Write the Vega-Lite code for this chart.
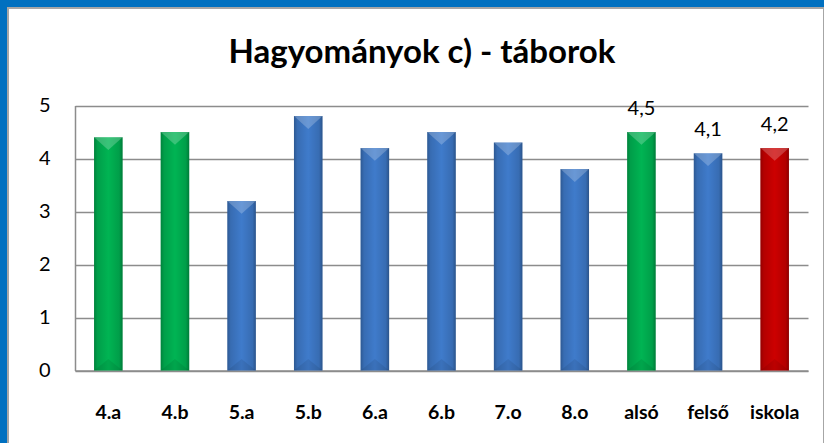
{
  "$schema": "https://vega.github.io/schema/vega-lite/v6.json",
  "autosize": {"type": "none"},
  "width": 816,
  "height": 436,
  "padding": {"left": 8, "top": 8, "right": 0, "bottom": 0},
  "background": "#0070C0",
  "view": {"fill": "#ffffff", "stroke": "#a6a6a6", "strokeWidth": 2},
  "config": {
    "font": "Lato",
    "locale": {"number": {"decimal": ",", "thousands": " ", "grouping": [3], "currency": ["", " Ft"]}}
  },
  "title": {
    "text": "Hagyományok c) - táborok",
    "font": "Lato",
    "fontSize": 33,
    "fontWeight": "bold",
    "color": "#000000",
    "anchor": "middle",
    "frame": "group",
    "baseline": "alphabetic",
    "offset": -88,
    "dx": 6
  },
  "data": {
    "values": [
      {"osztaly": "4.a", "ertek": 4.4, "szint": "alsó"},
      {"osztaly": "4.b", "ertek": 4.5, "szint": "alsó"},
      {"osztaly": "5.a", "ertek": 3.2, "szint": "felső"},
      {"osztaly": "5.b", "ertek": 4.8, "szint": "felső"},
      {"osztaly": "6.a", "ertek": 4.2, "szint": "felső"},
      {"osztaly": "6.b", "ertek": 4.5, "szint": "felső"},
      {"osztaly": "7.o", "ertek": 4.3, "szint": "felső"},
      {"osztaly": "8.o", "ertek": 3.8, "szint": "felső"},
      {"osztaly": "alsó", "ertek": 4.5, "szint": "alsó"},
      {"osztaly": "felső", "ertek": 4.1, "szint": "felső"},
      {"osztaly": "iskola", "ertek": 4.2, "szint": "iskola"}
    ]
  },
  "encoding": {
    "x": {
      "field": "osztaly",
      "type": "nominal",
      "sort": null,
      "scale": {"range": [67, 800], "paddingInner": 0.572, "paddingOuter": 0.286},
      "axis": {
        "title": null,
        "orient": "bottom",
        "offset": -73.5,
        "domainColor": "#8c8c8c",
        "domainWidth": 1.5,
        "ticks": false,
        "grid": false,
        "labelPadding": 33,
        "labelFont": "Lato",
        "labelFontSize": 19.5,
        "labelFontWeight": "bold",
        "labelColor": "#000000",
        "labelAngle": 0
      }
    },
    "y": {
      "field": "ertek",
      "type": "quantitative",
      "scale": {"domain": [0, 5], "range": [362.5, 97.5], "nice": false, "zero": true},
      "axis": {
        "title": null,
        "offset": -67,
        "values": [0, 1, 2, 3, 4, 5],
        "grid": true,
        "gridColor": "#8c8c8c",
        "gridWidth": 1.5,
        "domainColor": "#8c8c8c",
        "domainWidth": 1.5,
        "ticks": false,
        "labelPadding": 25,
        "labelFont": "Lato",
        "labelFontSize": 20,
        "labelColor": "#000000"
      }
    }
  },
  "layer": [
    {
      "mark": {"type": "bar"},
      "encoding": {
        "color": {
          "field": "szint",
          "type": "nominal",
          "scale": {"domain": ["alsó", "felső", "iskola"], "range": ["#00B453", "#3F7BCB", "#CC0000"]},
          "legend": null
        }
      }
    },
    {
      "mark": {
        "type": "bar",
        "fill": {
          "gradient": "linear",
          "x1": 0, "y1": 0, "x2": 1, "y2": 0,
          "stops": [
            {"offset": 0, "color": "rgba(0,0,0,0.28)"},
            {"offset": 0.12, "color": "rgba(0,0,0,0.12)"},
            {"offset": 0.5, "color": "rgba(0,0,0,0)"},
            {"offset": 0.88, "color": "rgba(0,0,0,0.12)"},
            {"offset": 1, "color": "rgba(0,0,0,0.32)"}
          ]
        }
      }
    },
    {
      "mark": {"type": "point", "shape": "M-1,0L1,0L0,0.9Z", "size": 812, "filled": true, "fill": "#ffffff", "opacity": 0.22, "strokeWidth": 0}
    },
    {
      "mark": {"type": "point", "shape": "M-1,0L1,0L0,-0.8Z", "size": 812, "filled": true, "fill": "#000000", "opacity": 0.08, "strokeWidth": 0},
      "encoding": {"y": {"datum": 0}}
    },
    {
      "transform": [{"filter": {"field": "osztaly", "oneOf": ["alsó", "felső", "iskola"]}}],
      "mark": {"type": "text", "baseline": "alphabetic", "dy": -17, "font": "Lato", "fontSize": 20, "color": "#000000"},
      "encoding": {
        "text": {"field": "ertek", "type": "quantitative", "format": ".1f"}
      }
    }
  ]
}
